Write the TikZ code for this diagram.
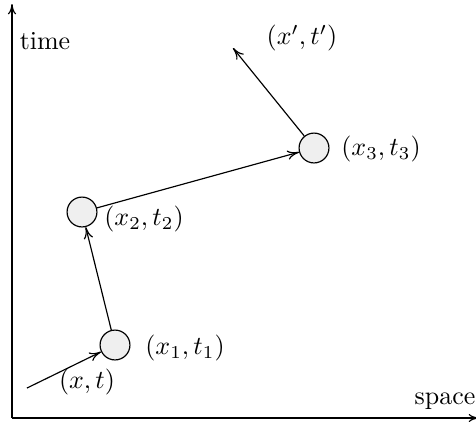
\documentclass[tikz,border=0pt]{standalone}
\usetikzlibrary{arrows.meta}
\definecolor{nodefill}{HTML}{EFEFEF}
\begin{document}
\begin{tikzpicture}[x=0.385pt,y=-0.385pt,
  state/.style={circle,draw,fill=nodefill,minimum size=11.5pt,inner sep=0pt,line width=0.45pt},
  conn/.style={-{To[length=4.5pt,width=3.6pt]},line width=0.45pt},
  axis/.style={-{To[length=4pt,width=3.2pt,line width=0.45pt]},line width=0.8pt},
  lbl/.style={inner sep=0pt}]
\useasboundingbox (0,0) rectangle (476,421);
\coordinate (o) at (12,418);
\coordinate (ytop) at (12,4);
\coordinate (xend) at (479,418);
\draw[axis] (o) -- (ytop);
\draw[axis] (o) -- (xend);
\node[lbl] (time) at (45,41) {time};
\node[lbl] (space) at (445,401) {space};
\node[state] (c1) at (115,345) {};
\node[state] (c2) at (82,212) {};
\node[state] (c3) at (314,148) {};
\coordinate (start) at (27,388);
\coordinate (end) at (233,48);
\draw[conn] (start) -- (c1);
\draw[conn] (c1) -- (c2);
\draw[conn] (c2) -- (c3);
\draw[conn] (c3) -- (end);
\node[lbl] (l0) at (87,382) {$(x,t)$};
\node[lbl] (l1) at (185,348) {$(x_1,t_1)$};
\node[lbl] (l2) at (144,219) {$(x_2,t_2)$};
\node[lbl] (l3) at (381,149) {$(x_3,t_3)$};
\node[lbl] (l4) at (302,38) {$(x',t')$};
\end{tikzpicture}
\end{document}
